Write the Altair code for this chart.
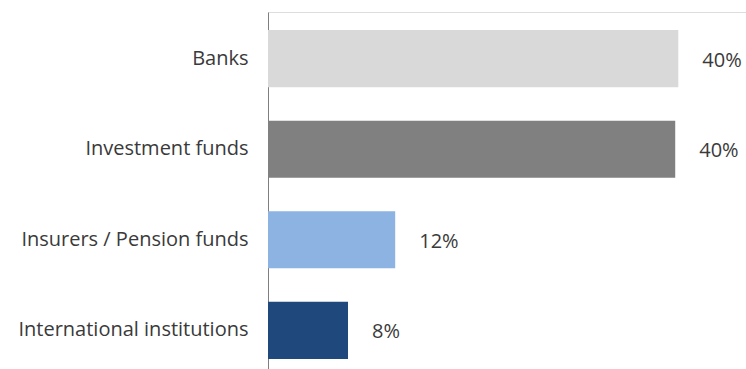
import altair as alt
import pandas as pd

# Share of holdings by investor type (percent)
categories = ["Banks", "Investment funds", "Insurers / Pension funds", "International institutions"]
shares = [40.0, 39.7, 12.4, 7.8]
colors = ["#d9d9d9", "#808080", "#8db3e2", "#1f497d"]

df = pd.DataFrame({"category": categories, "share": shares})

FONT = "Open Sans"
TEXT_COLOR = "#3a3a3a"

y_enc = alt.Y(
    "category:N",
    sort=categories,
    scale=alt.Scale(paddingInner=0.37, paddingOuter=0.2),
    axis=alt.Axis(
        title=None,
        ticks=False,
        labelPadding=20,
        labelFontSize=20,
        labelFont=FONT,
        labelColor=TEXT_COLOR,
        labelLimit=300,
        domainColor="#7f7f7f",
        domainWidth=1,
    ),
)

x_enc = alt.X(
    "share:Q",
    scale=alt.Scale(domain=[0, 46.6], nice=False),
    axis=None,
)

bars = alt.Chart(df).mark_bar().encode(
    y=y_enc,
    x=x_enc,
    color=alt.Color("category:N", scale=alt.Scale(domain=categories, range=colors), legend=None),
)

labels = alt.Chart(df).transform_calculate(
    label="format(datum.share, '.0f') + '%'"
).mark_text(
    align="left", baseline="middle", dx=24, dy=2, fontSize=20, font=FONT, color=TEXT_COLOR
).encode(
    y=alt.Y("category:N", sort=categories),
    x=alt.X("share:Q"),
    text="label:N",
)

chart = (
    alt.layer(bars, labels)
    .properties(
        width=478,
        height=365,
        autosize=alt.AutoSizeParams(type="none"),
        padding={"left": 268, "top": 12, "right": 0, "bottom": 0},
    )
    .configure_view(stroke=None)
    .configure(background="white")
)

chart.save("out.html", embed_options={"renderer": "svg", "actions": False})
